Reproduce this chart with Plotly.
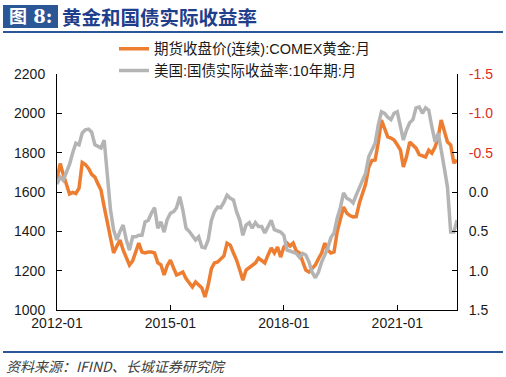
import plotly.graph_objects as go
import pandas as pd

dates = pd.date_range("2012-01-01", "2022-08-01", freq="MS")

gold = [1665, 1745, 1690, 1640, 1590, 1598, 1592, 1620, 1750, 1740,
        1720, 1690, 1676, 1640, 1610, 1524, 1442, 1370, 1290, 1325,
        1356, 1305, 1265, 1229, 1250, 1305, 1340, 1295, 1290, 1295,
        1295, 1290, 1240, 1230, 1178, 1225, 1254, 1213, 1178, 1185,
        1193, 1160, 1140, 1117, 1142, 1130, 1112, 1066, 1127, 1210,
        1239, 1244, 1260, 1275, 1340, 1330, 1290, 1254, 1203, 1152,
        1203, 1215, 1229, 1239, 1264, 1250, 1239, 1280, 1315, 1290,
        1320, 1269, 1320, 1340, 1325, 1340, 1300, 1290, 1240, 1203,
        1193, 1210, 1229, 1260, 1290, 1340, 1305, 1290, 1295, 1400,
        1458, 1524, 1493, 1480, 1473, 1475, 1544, 1595, 1640, 1727,
        1760, 1763, 1850, 1966, 1915, 1880, 1874, 1864, 1840, 1813,
        1727, 1780, 1854, 1840, 1823, 1790, 1785, 1778, 1813, 1798,
        1829, 1879, 1966, 1915, 1854, 1839, 1747, 1763]

real_yield = [-0.10, -0.19, -0.15, -0.25, -0.35, -0.50, -0.62, -0.60, -0.75, -0.79,
              -0.80, -0.76, -0.60, -0.58, -0.56, -0.66, -0.19, 0.23, 0.48, 0.61,
              0.50, 0.42, 0.61, 0.74, 0.57, 0.57, 0.55, 0.55, 0.38, 0.36,
              0.27, 0.20, 0.46, 0.38, 0.51, 0.35, 0.27, 0.25, 0.20, 0.06,
              0.23, 0.46, 0.50, 0.55, 0.61, 0.57, 0.70, 0.71, 0.61, 0.36,
              0.25, 0.19, 0.20, 0.13, 0.04, 0.08, 0.10, 0.25, 0.36, 0.55,
              0.42, 0.39, 0.46, 0.39, 0.44, 0.44, 0.52, 0.44, 0.36, 0.48,
              0.50, 0.51, 0.55, 0.74, 0.75, 0.76, 0.78, 0.83, 0.78, 0.80,
              0.89, 1.02, 1.09, 1.02, 0.89, 0.80, 0.71, 0.58, 0.52, 0.33,
              0.20, 0.01, 0.08, 0.10, 0.14, 0.04, -0.06, -0.15, -0.24, -0.45,
              -0.53, -0.62, -0.85, -1.02, -1.00, -0.95, -0.92, -1.00, -1.02, -0.83,
              -0.66, -0.79, -0.88, -0.92, -1.07, -1.08, -1.00, -1.07, -1.04, -0.83,
              -0.64, -0.75, -0.50, -0.30, -0.06, 0.51, 0.51, 0.36]

left_ticks = [1000, 1200, 1400, 1600, 1800, 2000, 2200]
right_ticks = [-1.5, -1.0, -0.5, 0.0, 0.5, 1.0, 1.5]
x_ticks = ["2012-01-01", "2015-01-01", "2018-01-01", "2021-01-01"]
x_ticklabels = ["2012-01", "2015-01", "2018-01", "2021-01"]

name_gold = "期货收盘价(连续):COMEX黄金:月"
name_yield = "美国:国债实际收益率:10年期:月"

ORANGE = "#ED7D31"
GRAY = "#B4B4B4"
BLUE = "#2B5797"
RED = "#E02B20"

right_ticktext = [
    (f'<span style="color:{RED}">{v:.1f}</span>' if v < 0 else f"{v:.1f}")
    for v in right_ticks
]

fig = go.Figure()
fig.add_trace(go.Scatter(x=dates, y=gold, name=name_gold, mode="lines",
                         line=dict(color=ORANGE, width=3.5), yaxis="y"))
fig.add_trace(go.Scatter(x=dates, y=real_yield, name=name_yield, mode="lines",
                         line=dict(color=GRAY, width=3.5), yaxis="y2"))

FONT = "Liberation Sans, Arial, Noto Sans CJK SC, sans-serif"

fig.update_layout(
    width=506, height=377,
    margin=dict(l=57, r=49, t=74, b=67, pad=0),
    paper_bgcolor="white", plot_bgcolor="white",
    font=dict(family=FONT, size=14, color="#1a1a1a"),
    showlegend=True,
    legend=dict(x=0.1425, y=1.175, xanchor="left", yanchor="top",
                bgcolor="rgba(0,0,0,0)", font=dict(size=14.5, color="#1a1a1a",
                family="Liberation Sans, Noto Sans CJK SC, sans-serif"),
                tracegroupgap=0),
    xaxis=dict(type="date", range=["2012-01-01", "2022-08-01"],
               tickvals=x_ticks, ticktext=x_ticklabels,
               showline=True, linecolor="black", linewidth=1,
               ticks="inside", ticklen=5, tickcolor="black",
               showgrid=False, zeroline=False,
               tickfont=dict(size=14, color="#1a1a1a")),
    yaxis=dict(range=[1000, 2200], tickvals=left_ticks,
               showline=True, linecolor="black", linewidth=1,
               ticks="inside", ticklen=5, tickcolor="black",
               showgrid=False, zeroline=False, ticklabelstandoff=8,
               tickfont=dict(size=14, color="#1a1a1a")),
    yaxis2=dict(range=[1.5, -1.5], overlaying="y", side="right",
                tickvals=right_ticks, ticktext=right_ticktext,
                showline=True, linecolor="black", linewidth=1,
                ticks="inside", ticklen=5, tickcolor="black",
                showgrid=False, zeroline=False, ticklabelstandoff=8,
                tickfont=dict(size=14, color="#1a1a1a")),
)

# header / footer decorations (paper coords: px = 57 + 400x, py = 310 - 236y)
def px(x):
    return (x - 57) / 400

def py(y):
    return (310 - y) / 236

fig.add_shape(type="rect", xref="paper", yref="paper",
              x0=px(3), x1=px(58), y0=py(28), y1=py(5),
              fillcolor=BLUE, line=dict(width=0))
fig.add_shape(type="line", xref="paper", yref="paper",
              x0=px(3), x1=px(503), y0=py(32), y1=py(32),
              line=dict(color=BLUE, width=2))
fig.add_shape(type="line", xref="paper", yref="paper",
              x0=px(3), x1=px(503), y0=py(352), y1=py(352),
              line=dict(color=BLUE, width=2))

fig.add_annotation(xref="paper", yref="paper", x=px(30.5), y=py(16.5),
                   text="<b>图 8:</b>", showarrow=False,
                   xanchor="center", yanchor="middle",
                   font=dict(family="DejaVu Serif, Noto Sans CJK SC, serif",
                             size=18, color="white"))
fig.add_annotation(xref="paper", yref="paper", x=px(60), y=py(16.5),
                   text="<b>黄金和国债实际收益率</b>", showarrow=False,
                   xanchor="left", yanchor="middle",
                   font=dict(family="Noto Sans CJK SC, sans-serif",
                             size=19.5, color="#1F3E8C"))
fig.add_annotation(xref="paper", yref="paper", x=px(4), y=py(366),
                   text="<i>资料来源：IFIND、长城证券研究院</i>", showarrow=False,
                   xanchor="left", yanchor="middle",
                   font=dict(family="Noto Sans CJK SC, serif",
                             size=14, color="#404040", style="italic"))

fig.write_html(
    "out.html",
    config={"displayModeBar": False},
    post_script="document.body.style.margin='0';document.body.style.padding='0';",
)
